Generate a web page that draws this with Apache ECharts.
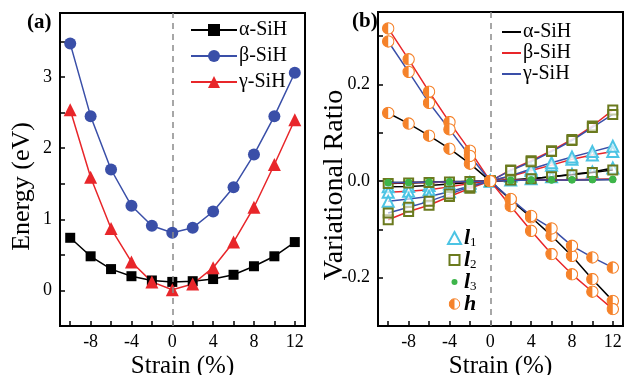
<!DOCTYPE html>
<html><head><meta charset="utf-8">
<script src="https://cdn.jsdelivr.net/npm/echarts@6/dist/echarts.min.js"></script>
<style>html,body{margin:0;padding:0;background:#fff}#c{width:625px;height:375px}</style>
</head><body><div id="c"></div>
<script>
// ---------- data ----------
const strain = [-10, -8, -6, -4, -2, 0, 2, 4, 6, 8, 10, 12];
const xTicks = [-10, -8, -6, -4, -2, 0, 2, 4, 6, 8, 10, 12];
const xLabels = [-8, -4, 0, 4, 8, 12];
const yTicksA = [0, 0.5, 1, 1.5, 2, 2.5, 3, 3.5];
const yLabelsA = [0, 1, 2, 3];
const yTicksB = [-0.2, -0.1, 0, 0.1, 0.2, 0.3];
const yLabelsB = [-0.2, 0, 0.2];

// panel (a): energy (eV)
const alphaE = [0.74, 0.48, 0.30, 0.20, 0.14, 0.12, 0.13, 0.16, 0.22, 0.34, 0.48, 0.68];
const betaE  = [3.47, 2.45, 1.70, 1.19, 0.91, 0.81, 0.88, 1.11, 1.45, 1.91, 2.45, 3.06];
const gammaE = [2.54, 1.59, 0.87, 0.40, 0.12, 0.01, 0.09, 0.32, 0.68, 1.17, 1.77, 2.40];

// panel (b): variational ratio
const alphaL1 = [-0.012, -0.011, -0.009, -0.006, -0.003, 0, 0.002, 0.005, 0.009, 0.014, 0.019, 0.027];
const betaL1  = [-0.023, -0.021, -0.018, -0.012, -0.005, 0, 0.010, 0.022, 0.033, 0.045, 0.054, 0.061];
const gammaL1 = [-0.042, -0.037, -0.032, -0.022, -0.010, 0, 0.011, 0.025, 0.038, 0.050, 0.061, 0.072];
const alphaL2 = [-0.005, -0.004, -0.003, -0.002, -0.001, 0, 0.002, 0.005, 0.009, 0.013, 0.018, 0.023];
const betaL2  = [-0.080, -0.063, -0.050, -0.032, -0.015, 0, 0.023, 0.042, 0.063, 0.086, 0.114, 0.147];
const gammaL2 = [-0.066, -0.054, -0.042, -0.027, -0.012, 0, 0.022, 0.040, 0.061, 0.084, 0.111, 0.138];
const alphaL3 = [-0.003, -0.003, -0.002, -0.001, -0.001, 0, 0.001, 0.002, 0.002, 0.003, 0.003, 0.004];
const betaL3  = [-0.004, -0.003, -0.003, -0.002, -0.001, 0, 0.002, 0.002, 0.003, 0.003, 0.004, 0.004];
const gammaL3 = [-0.003, -0.003, -0.002, -0.002, -0.001, 0, 0.001, 0.002, 0.002, 0.002, 0.003, 0.003];
const alphaH  = [0.141, 0.119, 0.094, 0.067, 0.036, 0, -0.039, -0.075, -0.113, -0.155, -0.203, -0.248];
const betaH   = [0.316, 0.252, 0.185, 0.122, 0.063, 0, -0.052, -0.103, -0.151, -0.193, -0.229, -0.265];
const gammaH  = [0.289, 0.226, 0.162, 0.107, 0.052, 0, -0.037, -0.072, -0.098, -0.134, -0.158, -0.179];

// ---------- styles ----------
const FONT = 'Liberation Serif';
const ORANGE = '#f5822a', CYAN = '#4cc4e4', OLIVE = '#6b7a1e', GREEN = '#3db54a';
const BLK = '#000', RED = '#e8262a', BLUE = '#3a4fa8';
const halfSvg = "<svg xmlns='http://www.w3.org/2000/svg' width='24' height='24'><circle cx='12' cy='12' r='10.5' fill='#ffffff' stroke='" + ORANGE + "' stroke-width='2'/><path d='M12 1.5 A10.5 10.5 0 0 0 12 22.5 Z' fill='" + ORANGE + "'/></svg>";
const HALF = 'image://data:image/svg+xml;charset=utf-8,' + encodeURIComponent(halfSvg);

function pairs(ys) { return strain.map((x, i) => [x, ys[i]]); }

function xAxis(gi) {
  return {
    type: 'value', gridIndex: gi, min: -11, max: 13,
    name: 'Strain (%)', nameLocation: 'middle', nameGap: 28, nameMoveOverlap: false,
    nameTextStyle: { fontFamily: FONT, fontSize: 25, color: '#000' },
    axisLine: { onZero: false, lineStyle: { color: '#000', width: 2 } },
    axisTick: { inside: true, length: 5, customValues: xTicks, lineStyle: { color: '#000', width: 1.5 } },
    axisLabel: { customValues: xLabels, fontFamily: FONT, fontSize: 18, color: '#000', margin: 7 },
    splitLine: { show: false }
  };
}
function yAxis(gi, min, max, ticks, labels, name, gap, fs, pad, fmt) {
  return {
    type: 'value', gridIndex: gi, min: min, max: max,
    name: name, nameLocation: 'middle', nameGap: gap, nameMoveOverlap: false,
    nameTextStyle: { fontFamily: FONT, fontSize: fs, color: '#000', padding: [0, pad, 0, 0] },
    axisLine: { onZero: false, lineStyle: { color: '#000', width: 2 } },
    axisTick: { inside: true, length: 5, customValues: ticks, lineStyle: { color: '#000', width: 1.5 } },
    axisLabel: { customValues: labels, fontFamily: FONT, fontSize: 18, color: '#000', margin: 8, formatter: fmt },
    splitLine: { show: false }
  };
}
const vline = {
  silent: true, symbol: 'none', label: { show: false },
  lineStyle: { type: [6, 5], color: '#8a8a8a', width: 1.5 },
  emphasis: { disabled: true },
  data: [{ xAxis: 0 }]
};

const series = [];
// panel (a)
[['α-SiH', alphaE, BLK, 'rect', 10], ['β-SiH', betaE, BLUE, 'circle', 12], ['γ-SiH', gammaE, RED, 'triangle', 13]]
  .forEach(([n, d, c, s, sz], i) => {
    const o = {
      name: n, type: 'line', xAxisIndex: 0, yAxisIndex: 0, data: pairs(d),
      symbol: s, symbolSize: sz, color: c,
      lineStyle: { color: c, width: 1.5 }, itemStyle: { color: c },
      z: 3
    };
    if (i === 0) o.markLine = vline;
    series.push(o);
  });

// panel (b)
const mats = [['α', BLK, [alphaL1, alphaL2, alphaL3, alphaH]],
              ['β', RED, [betaL1, betaL2, betaL3, betaH]],
              ['γ', BLUE, [gammaL1, gammaL2, gammaL3, gammaH]]];
const types = [
  { k: 'l1', symbol: 'triangle', size: 11, item: { color: 'rgba(255,255,255,0.6)', borderColor: CYAN, borderWidth: 2 } },
  { k: 'l2', symbol: 'rect', size: 9, item: { color: 'rgba(255,255,255,0.6)', borderColor: OLIVE, borderWidth: 2 } },
  { k: 'l3', symbol: 'circle', size: 7, item: { color: GREEN, borderWidth: 0 } },
  { k: 'h', symbol: HALF, size: 13, item: {} }
];
let first = true;
types.forEach((t, ti) => {
  mats.forEach(([m, c, arrs]) => {
    const o = {
      name: m + '-' + t.k, type: 'line', xAxisIndex: 1, yAxisIndex: 1, data: pairs(arrs[ti]),
      symbol: t.symbol, symbolSize: t.size,
      lineStyle: { color: c, width: 1.5 }, itemStyle: t.item,
      z: 3 + ti
    };
    if (first) { o.markLine = vline; first = false; }
    series.push(o);
  });
});
// legend-only series for panel (b)
[['bα', BLK], ['bβ', RED], ['bγ', BLUE]].forEach(([n, c]) => {
  series.push({ name: n, type: 'line', xAxisIndex: 1, yAxisIndex: 1, data: [], color: c, itemStyle: { color: c }, lineStyle: { color: c } });
});
['l1', 'l2', 'l3', 'h'].forEach(n => {
  series.push({ name: n, type: 'line', xAxisIndex: 1, yAxisIndex: 1, data: [] });
});
const bNames = { 'bα': 'α-SiH', 'bβ': 'β-SiH', 'bγ': 'γ-SiH' };
const lNames = { l1: '{i|l}{s|1}', l2: '{i|l}{s|2}', l3: '{i|l}{s|3}', h: '{i|h}' };

const option = {
  animation: false,
  backgroundColor: '#fff',
  grid: [
    { left: 60, right: 320, top: 13, bottom: 49, show: true, borderColor: '#000', borderWidth: 2, containLabel: false, outerBoundsMode: 'none' },
    { left: 378, right: 2, top: 12, bottom: 49, show: true, borderColor: '#000', borderWidth: 2, containLabel: false, outerBoundsMode: 'none' }
  ],
  xAxis: [xAxis(0), xAxis(1)],
  yAxis: [
    yAxis(0, -0.5, 3.9, yTicksA, yLabelsA, 'Energy (eV)', 25, 26, 34, v => String(v)),
    yAxis(1, -0.3, 0.35, yTicksB, yLabelsB, 'Variational Ratio', 29, 28, 32, v => v.toFixed(1))
  ],
  legend: [
    {
      orient: 'vertical', left: 185, top: 14, itemWidth: 46, itemHeight: 15, itemGap: 4,
      data: ['α-SiH', 'β-SiH', 'γ-SiH'],
      textStyle: { fontFamily: FONT, fontSize: 20, lineHeight: 22, color: '#000', padding: [0, 0, 0, -3] }
    },
    {
      orient: 'vertical', left: 497, top: 17, itemWidth: 19, itemHeight: 2, itemGap: 1,
      data: [{ name: 'bα', icon: 'rect' }, { name: 'bβ', icon: 'rect' }, { name: 'bγ', icon: 'rect' }],
      formatter: n => bNames[n],
      textStyle: { fontFamily: FONT, fontSize: 20, lineHeight: 18, color: '#000', padding: [0, 0, 0, -3] }
    },
    {
      orient: 'vertical', left: 442, top: 222, itemWidth: 13, itemHeight: 12, itemGap: 0,
      data: [
        { name: 'l1', icon: 'triangle', itemStyle: { color: '#fff', borderColor: CYAN, borderWidth: 2 } },
        { name: 'l2', icon: 'path://M0,0H10V10H0Z M-1,-1 M11,11', itemStyle: { color: '#fff', borderColor: OLIVE, borderWidth: 2 } },
        { name: 'l3', icon: 'path://M0,0 m-5,0 a5,5 0 1,0 10,0 a5,5 0 1,0 -10,0 M-10,-10 M10,10', itemStyle: { color: GREEN, borderWidth: 0 } },
        { name: 'h', icon: HALF }
      ],
      formatter: n => lNames[n],
      textStyle: {
        color: '#000', padding: [0, 0, 0, -2],
        rich: {
          i: { fontFamily: FONT, fontSize: 22, lineHeight: 18, fontStyle: 'italic', fontWeight: 'bold', color: '#000' },
          s: { fontFamily: FONT, fontSize: 13, lineHeight: 18, color: '#000', padding: [9, 0, 0, 0] }
        }
      }
    }
  ],
  graphic: [
    { type: 'text', left: 27, top: 12, style: { text: '(a)', font: 'bold 21px "Liberation Serif"', fill: '#000' } },
    { type: 'text', left: 352, top: 11, style: { text: '(b)', font: 'bold 21px "Liberation Serif"', fill: '#000' } }
  ],
  series: series
};
const chart = echarts.init(document.getElementById('c'), null, { renderer: 'canvas' });
chart.setOption(option);
</script></body></html>
